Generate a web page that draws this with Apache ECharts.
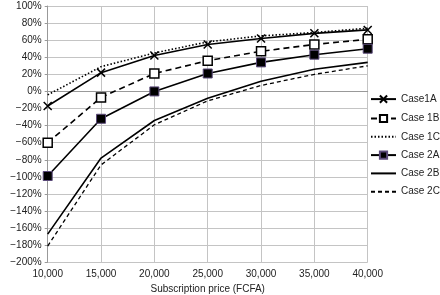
<!DOCTYPE html>
<html><head><meta charset="utf-8">
<script src="https://cdn.jsdelivr.net/npm/echarts@6/dist/echarts.min.js"></script>
<style>html,body{margin:0;padding:0;background:#fff}#c{width:440px;height:295px}</style>
</head><body><div id="c"></div>
<script>
const prices = [10000, 15000, 20000, 25000, 30000, 35000, 40000];
const case1A = [-17, 22, 42, 55, 62, 68, 72];
const case1B = [-60, -7, 21, 36, 47, 55, 61];
const case1C = [-4, 29, 45, 58, 65, 69, 74];
const case2A = [-99, -32, 0, 21, 34, 43, 50];
const case2B = [-167, -78, -34, -8, 12, 26, 34];
const case2C = [-181, -86, -39, -11, 7, 20, 30];
const names = ['Case1A', 'Case 1B', 'Case 1C', 'Case 2A', 'Case 2B', 'Case 2C'];

const pts = arr => prices.map((p, i) => [p, arr[i]]);
const font = 'Liberation Sans, Arial, sans-serif';
const chart = echarts.init(document.getElementById('c'));
const base = { type: 'line', animation: false, color: '#000' };
chart.setOption({
  animation: false,
  grid: { left: 47.7, right: 72.3, top: 6, bottom: 32.7, containLabel: false, outerBoundsMode: 'none' },
  xAxis: {
    type: 'value', min: 10000, max: 40000, interval: 5000,
    name: 'Subscription price (FCFA)', nameLocation: 'middle', nameGap: 20,
    nameTextStyle: { fontFamily: font, fontSize: 10, color: '#222' },
    axisLabel: { fontFamily: font, fontSize: 10, color: '#222', margin: 7,
      formatter: v => v.toLocaleString('en-US') },
    axisLine: { lineStyle: { color: '#999' } },
    axisTick: { show: false },
    splitLine: { show: true, lineStyle: { color: '#c4c4c4', width: 1 } }
  },
  yAxis: {
    type: 'value', min: -200, max: 100, interval: 20,
    name: 'Profit margin', nameLocation: 'middle', nameGap: 41,
    nameTextStyle: { fontFamily: font, fontSize: 10, color: '#222' },
    axisLabel: { fontFamily: font, fontSize: 10, color: '#222', margin: 6,
      formatter: v => (v < 0 ? '\u2212' + (-v) : v) + '%' },
    axisLine: { show: true, lineStyle: { color: '#999' } },
    axisTick: { show: true, length: 3, lineStyle: { color: '#999' } },
    splitLine: { show: true, lineStyle: { color: '#c4c4c4', width: 1 } }
  },
  legend: {
    orient: 'vertical', left: 370, top: 93, itemWidth: 25, itemHeight: 9, itemGap: 8.3,
    padding: 0,
    textStyle: { fontFamily: font, fontSize: 10, color: '#222' },
    data: [
      { name: names[0] },
      { name: names[1] },
      { name: names[2], itemStyle: { opacity: 0 } },
      { name: names[3] },
      { name: names[4], itemStyle: { opacity: 0 } },
      { name: names[5], itemStyle: { opacity: 0 } }
    ]
  },
  series: [
    Object.assign({}, base, { name: names[0], data: pts(case1A), symbol: 'path://M0,0L10,10M10,0L0,10', symbolSize: 8,
      itemStyle: { color: 'none', borderColor: '#000', borderWidth: 1.5 }, lineStyle: { color: '#000', width: 1.6 } }),
    Object.assign({}, base, { name: names[1], data: pts(case1B), symbol: 'rect', symbolSize: 9,
      itemStyle: { color: '#fff', borderColor: '#000', borderWidth: 1.5 }, lineStyle: { color: '#000', width: 1.6, type: [6, 4] } }),
    Object.assign({}, base, { name: names[2], data: pts(case1C), symbol: 'none',
      itemStyle: { color: '#000' }, lineStyle: { color: '#000', width: 1.6, type: [1.5, 2] } }),
    Object.assign({}, base, { name: names[3], data: pts(case2A), symbol: 'rect', symbolSize: 9,
      itemStyle: { color: '#000', borderColor: '#5b4a7a', borderWidth: 1 }, lineStyle: { color: '#000', width: 1.6 } }),
    Object.assign({}, base, { name: names[4], data: pts(case2B), symbol: 'none',
      itemStyle: { color: '#000' }, lineStyle: { color: '#000', width: 1.6 } }),
    Object.assign({}, base, { name: names[5], data: pts(case2C), symbol: 'none',
      itemStyle: { color: '#000' }, lineStyle: { color: '#000', width: 1.3, type: [4, 3] } })
  ]
});
</script></body></html>
